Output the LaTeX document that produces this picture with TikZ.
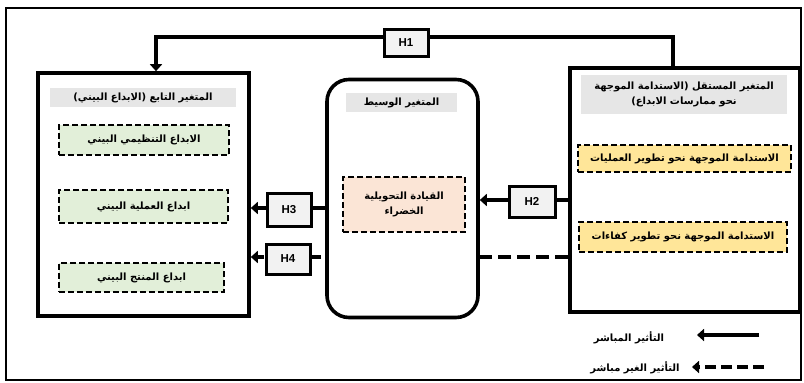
\documentclass[tikz,border=0pt]{standalone}
\usepackage{fontspec}
\setmainfont{Liberation Sans}
\newfontfamily\arfont[Script=Arabic]{DejaVu Sans}
\TeXXeTstate=1
\usetikzlibrary{arrows.meta}
\newcommand{\AR}[1]{{\arfont\bfseries\beginR #1\endR}}
\definecolor{hdrgray}{HTML}{E6E6E6}
\definecolor{hgray}{HTML}{F2F2F2}
\definecolor{gbox}{HTML}{E2EFD9}
\definecolor{pbox}{HTML}{FBE5D6}
\definecolor{ybox}{HTML}{FFE699}
\tikzset{
  mainbox/.style={draw, line width=3.6pt, fill=white, inner sep=0pt},
  hdr/.style={fill=hdrgray, inner sep=0pt, align=center, font=\fontsize{10}{15}\selectfont},
  dbox/.style={draw, line width=2.2pt, dash pattern=on 6pt off 3pt, inner sep=0pt, align=center, font=\fontsize{10}{14}\selectfont},
  hbox/.style={draw, line width=3pt, fill=hgray, inner sep=0pt, font=\bfseries\fontsize{11.5}{12}\selectfont},
  conn/.style={line width=3.4pt, -{Triangle[length=7pt,width=12pt]}},
  dconn/.style={line width=3.4pt, dash pattern=on 13pt off 6pt, -{Triangle[length=7pt,width=12pt]}},
  lgtext/.style={font=\fontsize{10}{12}\selectfont, inner sep=0pt}
}
\begin{document}
\begin{tikzpicture}[x=1pt,y=-1pt]
\useasboundingbox (0,0) rectangle (804,383);
\fill[white] (0,0) rectangle (804,383);
\draw[line width=1.8pt] (6,8) rectangle (801,380);
% main boxes
\node[mainbox, minimum width=211pt, minimum height=243pt] (L) at (143.5,194.5) {};
\node[mainbox, minimum width=230pt, minimum height=244pt] (R) at (685,190) {};
% H4 dashed line behind mediator
\coordinate (y4) at (0,257);
\draw[dconn] (R.west |- y4) -- (L.east |- y4);
% mediator
\node[mainbox, rounded corners=22pt, minimum width=151pt, minimum height=238pt] (M) at (402.5,198.5) {};
% headers
\node[hdr, minimum width=186pt, minimum height=19pt] (Lh) at (143,97.5) {\AR{المتغير التابع (الابداع البيني)}};
\node[hdr, minimum width=111pt, minimum height=19pt] (Mh) at (401.5,102.5) {\AR{المتغير الوسيط}};
\node[hdr, minimum width=206pt, minimum height=39pt] (Rh) at (684,94.5) {\AR{المتغير المستقل (الاستدامة الموجهة}\\\AR{نحو ممارسات الابداع)}};
% left dashed boxes
\node[dbox, fill=gbox, minimum width=170pt, minimum height=30pt] (L1) at (144,140) {\AR{الابداع التنظيمي البيني}};
\node[dbox, fill=gbox, minimum width=169pt, minimum height=33pt] (L2) at (143.5,206.5) {\AR{ابداع العملية البيني}};
\node[dbox, fill=gbox, minimum width=165pt, minimum height=29pt] (L3) at (141.5,277.5) {\AR{ابداع المنتج البيني}};
% mediator box
\node[dbox, fill=pbox, minimum width=122pt, minimum height=55pt] (M1) at (404,204.5) {\AR{القيادة التحويلية}\\[1pt]\AR{الخضراء}};
% right dashed boxes
\node[dbox, fill=ybox, minimum width=213pt, minimum height=27pt] (R1) at (684.5,158.5) {\AR{الاستدامة الموجهة نحو تطوير العمليات}};
\node[dbox, fill=ybox, minimum width=208pt, minimum height=30pt] (R2) at (683,237) {\AR{الاستدامة الموجهة نحو تطوير كفاءات}};
% H1
\coordinate (h1r) at (673,37);
\coordinate (h1l) at (156,37);
\draw[conn] (R.north -| h1r) -- (h1r) -- (h1l) -- (L.north -| h1l);
\node[hbox, minimum width=44pt, minimum height=27pt] (H1) at (406,42.5) {H1};
% H2
\coordinate (y2) at (0,200);
\draw[conn] (R.west |- y2) -- (M.east |- y2);
\node[hbox, minimum width=46pt, minimum height=31pt] (H2) at (532,201.5) {H2};
% H3
\coordinate (y3) at (0,208);
\draw[conn] (M.west |- y3) -- (L.east |- y3);
\node[hbox, minimum width=44pt, minimum height=33pt] (H3) at (289,209.5) {H3};
% H4 box
\node[hbox, minimum width=44pt, minimum height=30pt] (H4) at (288,259) {H4};
% legend
\coordinate (la1) at (759,335);
\coordinate (la2) at (697,335);
\draw[conn] (la1) -- (la2);
\node[lgtext] (lt1) at (629,338) {\AR{التأثير المباشر}};
\coordinate (lb1) at (764,367);
\coordinate (lb2) at (692,367);
\draw[dconn, dash pattern=on 11pt off 5pt] (lb1) -- (lb2);
\node[lgtext] (lt2) at (635,368) {\AR{التأثير الغير مباشر}};
\end{tikzpicture}
\end{document}
